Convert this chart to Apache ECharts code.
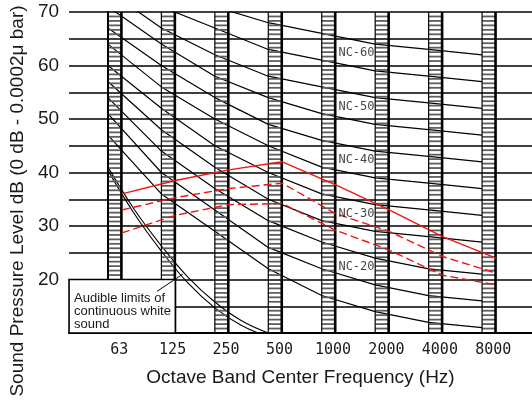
<!DOCTYPE html>
<html>
<head>
<meta charset="utf-8">
<script src="https://cdn.jsdelivr.net/npm/echarts@6/dist/echarts.min.js"></script>
<style>html,body{margin:0;padding:0;background:#fff;}#c{width:532px;height:412px;}</style>
</head>
<body>
<div id="c"></div>
<script>
// ---- data ----
const freqLabels = ['63', '125', '250', '500', '1000', '2000', '4000', '8000'];
const yTicks = [20, 30, 40, 50, 60, 70];
const nc15 = [47, 36, 29, 22, 17, 14, 12, 11];
const nc20 = [51, 40, 33, 26, 22, 19, 17, 16];
const nc25 = [54, 44, 37, 31, 27, 24, 22, 21];
const nc30 = [57, 48, 41, 35, 31, 29, 28, 27];
const nc35 = [60, 52, 45, 40, 36, 34, 33, 32];
const nc40 = [64, 56, 50, 45, 41, 39, 38, 37];
const nc45 = [67, 60, 54, 49, 46, 44, 43, 42];
const nc50 = [71, 64, 58, 54, 51, 49, 48, 47];
const nc55 = [74, 67, 62, 58, 56, 54, 53, 52];
const nc60 = [77, 71, 67, 63, 61, 59, 58, 57];
const nc65 = [80, 75, 71, 68, 66, 64, 63, 62];
const ncLabelLevels = [60, 50, 40, 30, 20];
const redSolid = [36, 38.5, 40.5, 42, 37.7, 33, 28, 24];
const redDashUpper = [33, 35.3, 37, 38, 32.3, 29, 24.3, 21.2];
const redDashLower = [28.7, 32, 34, 34.2, 29.2, 25.5, 20.8, 19];
const whiteNoiseX = [0, 0.5, 1, 1.5, 2, 2.5, 3];
const whiteNoiseUpper = [41, 33, 26.3, 20.4, 15.8, 12.3, 10];
const whiteNoiseLower = [40.4, 32.2, 25.3, 19.3, 14.7, 11.4, 9.3];
const noteLines = ['Audible limits of', 'continuous white', 'sound'];

// ---- layout constants ----
const Y_MIN = 10, Y_MAX = 70;
const X_MIN = -0.728, X_MAX = 7.934;
const COL_W = 0.2613;
const LABEL_SHIFT = 0.21;
const NC_LABEL_X = 4.65;
const NC_LABEL_DY = 2.3;
const SANS = "'Liberation Sans', Arial, sans-serif";
const MONO = "'DejaVu Sans Mono', monospace";

const ncSets = [[15, nc15], [20, nc20], [25, nc25], [30, nc30], [35, nc35], [40, nc40],
                [45, nc45], [50, nc50], [55, nc55], [60, nc60], [65, nc65]];

const chart = echarts.init(document.getElementById('c'), null, {renderer: 'canvas'});

function renderColumn(params, api) {
  const i = api.value(0);
  const pTop = api.coord([i, Y_MAX]);
  const pBot = api.coord([i + COL_W, Y_MIN]);
  const xl = pTop[0], xr = pBot[0];
  const children = [];
  const n = Math.round((Y_MAX - Y_MIN) * 6 / 5);
  for (let k = 1; k < n; k++) {
    if (k % 6 === 0) continue;
    const y = api.coord([i, Y_MIN + k * 5 / 6])[1];
    children.push({type: 'line', shape: {x1: xl, y1: y, x2: xr, y2: y},
      style: {stroke: '#5f5f5f', lineWidth: 1.8}});
  }
  children.push({type: 'line', shape: {x1: xl, y1: pTop[1], x2: xl, y2: pBot[1]},
    style: {stroke: '#000', lineWidth: 1.2}});
  children.push({type: 'line', shape: {x1: xr - 0.5, y1: pTop[1], x2: xr - 0.5, y2: pBot[1]},
    style: {stroke: '#000', lineWidth: 2.6}});
  return {type: 'group', children};
}

const series = [];
ncSets.forEach(([lvl, vals]) => {
  series.push({
    type: 'line', name: 'NC-' + lvl, silent: true, symbol: 'none', z: 1,
    lineStyle: {color: '#000', width: 1.2},
    data: vals.map((v, i) => [i, v])
  });
});
series.push({
  type: 'line', silent: true, symbol: 'none', z: 1, smooth: 0.4,
  lineStyle: {color: '#000', width: 1.1},
  data: whiteNoiseX.map((x, i) => [x, whiteNoiseUpper[i]])
});
series.push({
  type: 'line', silent: true, symbol: 'none', z: 1, smooth: 0.4,
  lineStyle: {color: '#000', width: 1.1},
  data: whiteNoiseX.map((x, i) => [x, whiteNoiseLower[i]])
});
series.push({
  type: 'custom', silent: true, z: 2, renderItem: renderColumn,
  data: freqLabels.map((_, i) => [i])
});
[[redSolid, 'solid'], [redDashUpper, [8, 4]], [redDashLower, [8, 4]]].forEach(([vals, t]) => {
  series.push({
    type: 'line', silent: true, symbol: 'none', z: 4,
    lineStyle: {color: '#f01414', width: 1.4, type: t},
    data: vals.map((v, i) => [i + COL_W, v])
  });
});
series.push({
  type: 'scatter', silent: true, symbolSize: 0, z: 5,
  data: ncLabelLevels.map(l => [NC_LABEL_X, l + NC_LABEL_DY, 'NC-' + l]),
  label: {show: true, position: 'inside', formatter: p => p.value[2],
    fontFamily: MONO, fontSize: 12, color: '#111'}
});

chart.setOption({
  animation: false,
  backgroundColor: '#fff',
  grid: {left: 68, right: 0, top: 12, bottom: 79},
  xAxis: {
    type: 'value', min: X_MIN, max: X_MAX, z: 3,
    axisLine: {show: true, lineStyle: {color: '#000', width: 2}},
    axisTick: {show: false}, splitLine: {show: false},
    axisLabel: {
      customValues: freqLabels.map((_, i) => i + LABEL_SHIFT),
      formatter: v => freqLabels[Math.round(v - LABEL_SHIFT)] || '',
      fontFamily: MONO, fontSize: 15, color: '#1a1a1a', margin: 10
    },
    name: 'Octave Band Center Frequency (Hz)', nameLocation: 'middle', nameGap: 35,
    nameTextStyle: {fontFamily: SANS, fontSize: 19, color: '#1a1a1a'}
  },
  yAxis: {
    type: 'value', min: Y_MIN, max: Y_MAX, interval: 5, z: 3,
    axisLine: {show: true, lineStyle: {color: '#000', width: 2}},
    axisTick: {show: false},
    splitLine: {show: true, lineStyle: {color: '#000', width: 1.5}},
    axisLabel: {
      formatter: v => yTicks.includes(v) ? String(v) : '',
      fontFamily: SANS, fontSize: 19, color: '#1a1a1a', margin: 10
    },
    name: 'Sound Pressure Level dB (0 dB - 0.0002\u03bc bar)', nameLocation: 'middle', nameGap: 41,
    nameTextStyle: {fontFamily: SANS, fontSize: 19, color: '#1a1a1a', padding: [0, 57, 0, 0]}
  },
  series
});

// annotation box for the white-noise curves, positioned from data coordinates
const bTL = chart.convertToPixel({gridIndex: 0}, [X_MIN, 20]);
const bBR = chart.convertToPixel({gridIndex: 0}, [1 + COL_W, Y_MIN]);
const leadA = chart.convertToPixel({gridIndex: 0}, [0.92, 17.8]);
const leadB = chart.convertToPixel({gridIndex: 0}, [1.40, 21.0]);
chart.setOption({
  graphic: [
    {type: 'rect', z: 10, shape: {x: bTL[0], y: bTL[1], width: bBR[0] - bTL[0], height: bBR[1] - bTL[1]},
      style: {fill: '#fff', stroke: '#000', lineWidth: 1.6}},
    {type: 'text', z: 11, x: bTL[0] + 5, y: bTL[1] + 13,
      style: {text: noteLines.join('\n'), font: "13px 'Liberation Sans', Arial, sans-serif",
        fill: '#1a1a1a', lineHeight: 12.6}},
    {type: 'line', z: 11, shape: {x1: leadA[0], y1: leadA[1], x2: leadB[0], y2: leadB[1]},
      style: {stroke: '#000', lineWidth: 1}}
  ]
});
</script>
</body>
</html>
